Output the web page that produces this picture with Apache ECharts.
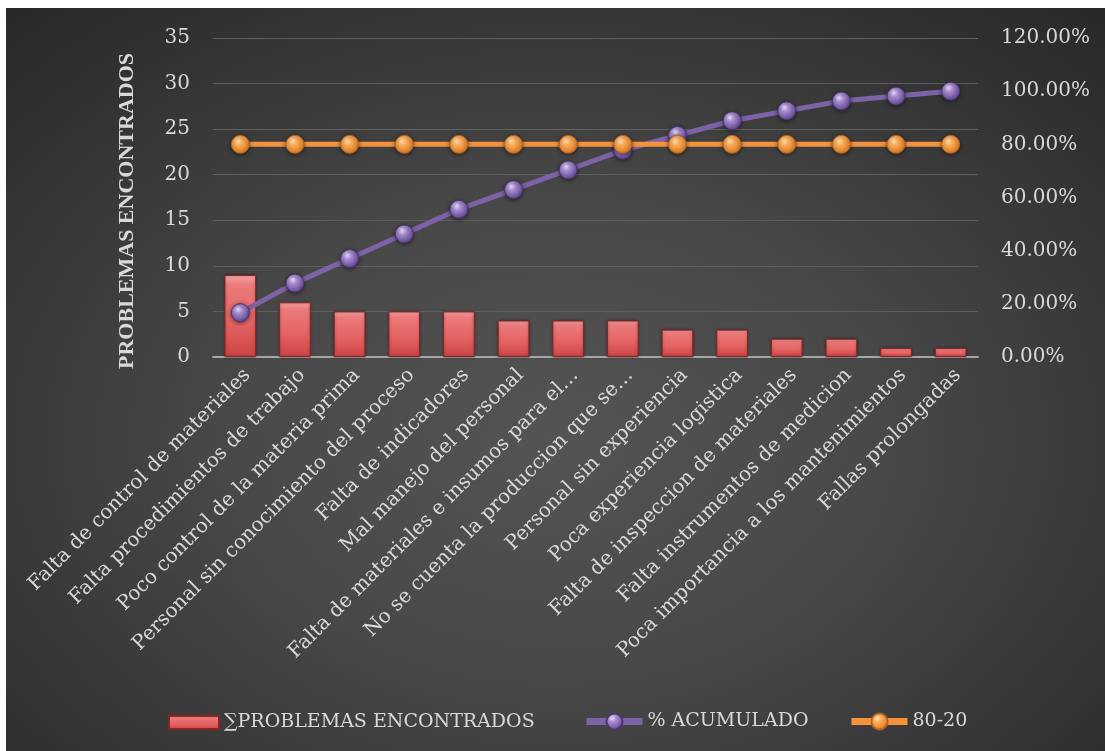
<!DOCTYPE html>
<html>
<head>
<meta charset="utf-8">
<script src="https://cdn.jsdelivr.net/npm/echarts@6/dist/echarts.min.js"></script>
<style>
html,body{margin:0;padding:0;background:#fff;width:1105px;height:751px;overflow:hidden;}
#bg{position:absolute;left:6px;top:8px;width:1099px;height:743px;
background:radial-gradient(ellipse 75% 80% at 50% 58%, #545454 0%, #484848 40%, #2f2f2f 85%, #282828 100%);}
#chart{position:absolute;left:0;top:0;width:1105px;height:751px;}
</style>
</head>
<body>
<div id="bg"></div>
<div id="chart"></div>
<script>
const categories = [
  "Falta de control de materiales",
  "Falta procedimientos de trabajo",
  "Poco control de la materia prima",
  "Personal sin conocimiento del proceso",
  "Falta de indicadores",
  "Mal manejo del personal",
  "Falta de materiales e insumos para el…",
  "No se cuenta la produccion que se…",
  "Personal sin experiencia",
  "Poca experiencia logistica",
  "Falta de inspeccion de materiales",
  "Falta instrumentos de medicion",
  "Poca importancia a los mantenimientos",
  "Fallas prolongadas"
];
const problemas = [9, 6, 5, 5, 5, 4, 4, 4, 3, 3, 2, 2, 1, 1];
const acumulado = [16.67, 27.78, 37.04, 46.30, 55.56, 62.96, 70.37, 77.78, 83.33, 88.89, 92.59, 96.30, 98.15, 100.00];
const ochenta = [80, 80, 80, 80, 80, 80, 80, 80, 80, 80, 80, 80, 80, 80];
const leftTicks = {min: 0, max: 35, interval: 5};
const rightTicks = {min: 0, max: 120, interval: 20};
const seriesNames = ['∑PROBLEMAS ENCONTRADOS', '% ACUMULADO', '80-20'];

const FONT = "DejaVu Serif";
const TXT = "#d9d9d9";

const chart = echarts.init(document.getElementById('chart'), null, {renderer: 'canvas'});
const barColor = new echarts.graphic.LinearGradient(0, 0, 0, 1, [
  {offset: 0, color: '#f6a8a8'},
  {offset: 0.12, color: '#ec7b7b'},
  {offset: 0.6, color: '#e46262'},
  {offset: 1, color: '#cc4444'}
]);
const purpleBall = new echarts.graphic.RadialGradient(0.38, 0.32, 0.75, [
  {offset: 0, color: '#e6dcf4'},
  {offset: 0.3, color: '#a78cd0'},
  {offset: 1, color: '#5b3f8c'}
]);
const orangeBall = new echarts.graphic.RadialGradient(0.38, 0.32, 0.75, [
  {offset: 0, color: '#ffe2b8'},
  {offset: 0.3, color: '#fbac5a'},
  {offset: 1, color: '#d9761c'}
]);

const legendText = {fontFamily: FONT, fontSize: 19, color: TXT};

chart.setOption({
  backgroundColor: 'transparent',
  animation: false,
  textStyle: {fontFamily: FONT, color: TXT},
  grid: {left: 213, right: 127, top: 38, bottom: 394, containLabel: false},
  graphic: [{
    type: 'text',
    left: 116, top: 53,
    rotation: Math.PI / 2,
    style: {
      text: 'PROBLEMAS ENCONTRADOS',
      fill: TXT,
      font: 'bold 22px "Liberation Serif"'
    }
  }],
  legend: [
    {left: 163, top: 708, itemWidth: 50, itemHeight: 13, itemGap: 0, textStyle: legendText,
      data: [{name: seriesNames[0], icon: 'rect'}]},
    {left: 578, top: 707, itemWidth: 56, itemHeight: 20, itemGap: 0, textStyle: legendText,
      lineStyle: {width: 7}, data: [seriesNames[1]]},
    {left: 843, top: 707, itemWidth: 56, itemHeight: 20, itemGap: 0, textStyle: legendText,
      lineStyle: {width: 7}, data: [seriesNames[2]]}
  ],
  xAxis: {
    type: 'category',
    data: categories,
    axisLine: {show: true, lineStyle: {color: '#a6a6a6', width: 2}},
    axisTick: {show: false},
    axisLabel: {rotate: 45, interval: 0, fontFamily: FONT, fontSize: 20, color: TXT,
      margin: 8, verticalAlign: 'top'}
  },
  yAxis: [{
    type: 'value',
    min: leftTicks.min, max: leftTicks.max, interval: leftTicks.interval,
    axisLine: {show: false}, axisTick: {show: false},
    axisLabel: {fontFamily: FONT, fontSize: 20, color: TXT, margin: 23},
    splitLine: {lineStyle: {color: '#5e5e5e', width: 1}}
  }, {
    type: 'value',
    min: rightTicks.min, max: rightTicks.max, interval: rightTicks.interval,
    axisLine: {show: false}, axisTick: {show: false},
    axisLabel: {fontFamily: FONT, fontSize: 20, color: TXT, margin: 23,
      formatter: v => v.toFixed(2) + '%'},
    splitLine: {show: false}
  }],
  series: [{
    name: seriesNames[0],
    type: 'bar',
    data: problemas,
    barWidth: '58%',
    itemStyle: {color: barColor, borderColor: '#8a2424', borderWidth: 1,
      shadowColor: 'rgba(0,0,0,0.4)', shadowBlur: 3},
    z: 2
  }, {
    name: seriesNames[1],
    type: 'line',
    yAxisIndex: 1,
    data: acumulado,
    symbol: 'circle',
    symbolSize: 18,
    lineStyle: {color: '#7e62a8', width: 5},
    itemStyle: {color: purpleBall, borderColor: '#4a3472', borderWidth: 1,
      shadowColor: 'rgba(0,0,0,0.5)', shadowBlur: 4, shadowOffsetY: 1},
    z: 3
  }, {
    name: seriesNames[2],
    type: 'line',
    yAxisIndex: 1,
    data: ochenta,
    symbol: 'circle',
    symbolSize: 18,
    lineStyle: {color: '#f5923e', width: 5},
    itemStyle: {color: orangeBall, borderColor: '#b6621a', borderWidth: 1,
      shadowColor: 'rgba(0,0,0,0.5)', shadowBlur: 4, shadowOffsetY: 1},
    z: 4
  }]
});
</script>
</body>
</html>
